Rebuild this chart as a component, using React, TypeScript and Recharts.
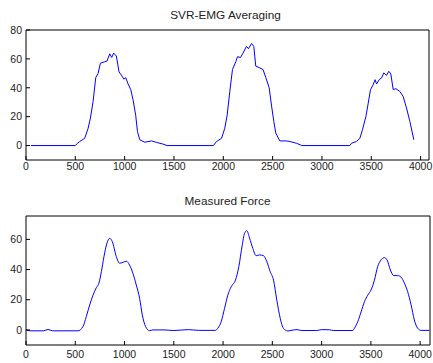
import React from 'react';
import { LineChart, Line, XAxis, YAxis } from 'recharts';

// SVR-EMG averaging estimate (sample index, value)
const emgX = [
  50, 500, 520, 545, 595, 630, 653, 680, 707, 731, 754, 798, 821, 849, 869, 889, 916, 943, 967, 991,
  1011, 1035, 1062, 1085, 1112, 1130, 1153, 1204, 1272, 1322, 1390, 1430, 1900, 1931, 1982, 2015,
  2039, 2066, 2093, 2126, 2144, 2174, 2200, 2235, 2255, 2286, 2309, 2329, 2363, 2403, 2431, 2465,
  2488, 2512, 2532, 2573, 2641, 2674, 2742, 2795, 3282, 3300, 3350, 3384, 3411, 3445, 3468, 3492,
  3518, 3539, 3553, 3580, 3604, 3627, 3654, 3678, 3698, 3722, 3749, 3789, 3823, 3857, 3891, 3931,
];
const emgY = [
  0, 0, 1.5, 2.8, 5, 12, 19, 30.5, 47, 50, 57, 58, 58.5, 63.5, 61, 64, 62, 51, 48.7, 46,
  47, 42.6, 38.7, 31.7, 21, 9.7, 4, 2.3, 3.2, 2.2, 1, 0, 0, 2.8, 5, 12,
  21, 37.5, 52.6, 58, 61.5, 61, 64, 68.7, 67, 70.6, 68.7, 55, 54, 52.6, 47, 40,
  28, 16.7, 8.6, 3.2, 3.2, 2.8, 1.6, 0, 0, 1.6, 2.8, 5, 11, 20, 29, 38.7,
  42, 45.6, 42.6, 45.6, 46.8, 50.3, 48.6, 51.4, 49.6, 38.7, 39.4, 37.5, 34, 26, 16.7, 4,
];

// measured force
const forceX = [
  0, 40, 180, 223, 270, 527, 578, 612, 646, 680, 714, 740, 765, 791, 821, 849, 876, 917, 950, 984,
  1018, 1051, 1085, 1119, 1153, 1180, 1214, 1254, 1288, 1400, 1500, 1650, 1750, 1920, 1947, 1981,
  2015, 2048, 2083, 2126, 2160, 2194, 2218, 2241, 2268, 2302, 2336, 2370, 2410, 2444, 2478, 2512,
  2545, 2580, 2613, 2657, 2700, 2750, 2800, 2950, 3000, 3080, 3120, 3316, 3333, 3367, 3401, 3435,
  3468, 3502, 3536, 3569, 3604, 3637, 3664, 3698, 3732, 3772, 3806, 3840, 3873, 3908, 3941, 3975,
  4009, 4094,
];
const forceY = [
  0, -0.6, -0.6, 0.3, -0.6, -0.6, 2.2, 8.8, 16.5, 23, 28, 31, 38.6, 48.5, 57.4, 60.7, 58.5, 48.5, 44.2, 44.8,
  45.5, 43, 37.5, 29.8, 21, 10, 2.2, -0.5, 0, 0, -0.4, 0.2, -0.3, -0.3, 1.1, 5.5,
  14.3, 23, 28.7, 33, 42, 56, 64, 65.8, 61, 54, 49.2, 49.7, 49.2, 45.3, 38.6, 33,
  19.9, 7.7, 1, -0.7, -0.2, 0.2, -0.4, -0.4, 0.2, 0.1, -0.4, -0.4, 1.1, 5.5, 12, 18.8,
  23, 26.5, 33, 42, 46.4, 47.9, 46.4, 39.7, 36, 36, 35, 31, 25.4, 16.6, 6.6, 1.1,
  -0.3, -0.3,
];

const xTicks = [0, 500, 1000, 1500, 2000, 2500, 3000, 3500, 4000];
const emgYTicks = [0, 20, 40, 60, 80];
const forceYTicks = [0, 20, 40, 60];

const emgData = emgX.map((x, i) => ({ x, y: emgY[i] }));
const forceData = forceX.map((x, i) => ({ x, y: forceY[i] }));

const font = '"Liberation Sans", Arial, sans-serif';
const axisStroke = '#000';
const tickText = { fontSize: 10.5, fill: '#222', fontFamily: font };

interface PanelProps {
  data: Array<{ x: number; y: number }>;
  height: number;
  xMax: number;
  yDomain: [number, number];
  yTicks: number[];
  top: number;
  right: number;
  xAxisHeight: number;
  xTickMargin: number;
  smooth?: boolean;
}

function Panel({ data, height, xMax, yDomain, yTicks, top, right, xAxisHeight, xTickMargin, smooth }: PanelProps) {
  const common = { stroke: axisStroke, strokeWidth: 1 };
  return (
    <LineChart width={433} height={height} data={data} margin={{ top, right, bottom: 0, left: 0 }}>
      <XAxis
        dataKey="x"
        type="number"
        domain={[0, xMax]}
        ticks={xTicks}
        allowDataOverflow
        height={xAxisHeight}
        tickSize={-4}
        tickMargin={xTickMargin}
        axisLine={common}
        tickLine={common}
        tick={tickText}
        interval={0}
      />
      {/* top and right axes only close the box and carry inward ticks */}
      <XAxis
        xAxisId="top"
        dataKey="x"
        orientation="top"
        type="number"
        domain={[0, xMax]}
        ticks={xTicks}
        allowDataOverflow
        height={1}
        tickSize={-4}
        axisLine={common}
        tickLine={common}
        tick={false}
        interval={0}
      />
      <YAxis
        type="number"
        domain={yDomain}
        ticks={yTicks}
        allowDataOverflow
        width={26}
        tickSize={-4}
        tickMargin={8}
        axisLine={common}
        tickLine={common}
        tick={tickText}
        interval={0}
      />
      <YAxis
        yAxisId="right"
        orientation="right"
        type="number"
        domain={yDomain}
        ticks={yTicks}
        allowDataOverflow
        width={1}
        tickSize={-4}
        axisLine={common}
        tickLine={common}
        tick={false}
        interval={0}
      />
      <Line
        xAxisId="top"
        yAxisId="right"
        dataKey="y"
        stroke="none"
        dot={false}
        activeDot={false}
        isAnimationActive={false}
      />
      <Line
        dataKey="y"
        type={smooth ? 'monotone' : 'linear'}
        stroke="#0000ff"
        strokeWidth={1}
        dot={false}
        isAnimationActive={false}
      />
    </LineChart>
  );
}

const titleStyle: React.CSSProperties = {
  position: 'absolute',
  width: 433,
  textAlign: 'center',
  fontFamily: font,
  fontSize: 11.8,
  color: '#222',
  lineHeight: '14px',
};

export default function App() {
  return (
    <div style={{ position: 'absolute', left: 0, top: 0, width: 433, height: 363, background: '#fff', overflow: 'hidden' }}>
      <div style={{ ...titleStyle, top: 8, left: 9 }}>SVR-EMG Averaging</div>
      <div style={{ position: 'absolute', left: 0, top: 0 }}>
        <Panel
          data={emgData}
          height={180}
          xMax={4085}
          yDomain={[-10, 80]}
          yTicks={emgYTicks}
          top={29}
          right={3}
          xAxisHeight={20}
          xTickMargin={7}
        />
      </div>
      <div style={{ ...titleStyle, top: 194, left: 11 }}>Measured Force</div>
      <div style={{ position: 'absolute', left: 0, top: 180 }}>
        <Panel
          data={forceData}
          height={183}
          xMax={4100}
          yDomain={[-10, 75.5]}
          yTicks={forceYTicks}
          top={35}
          right={2}
          xAxisHeight={18}
          xTickMargin={10}
          smooth
        />
      </div>
    </div>
  );
}
